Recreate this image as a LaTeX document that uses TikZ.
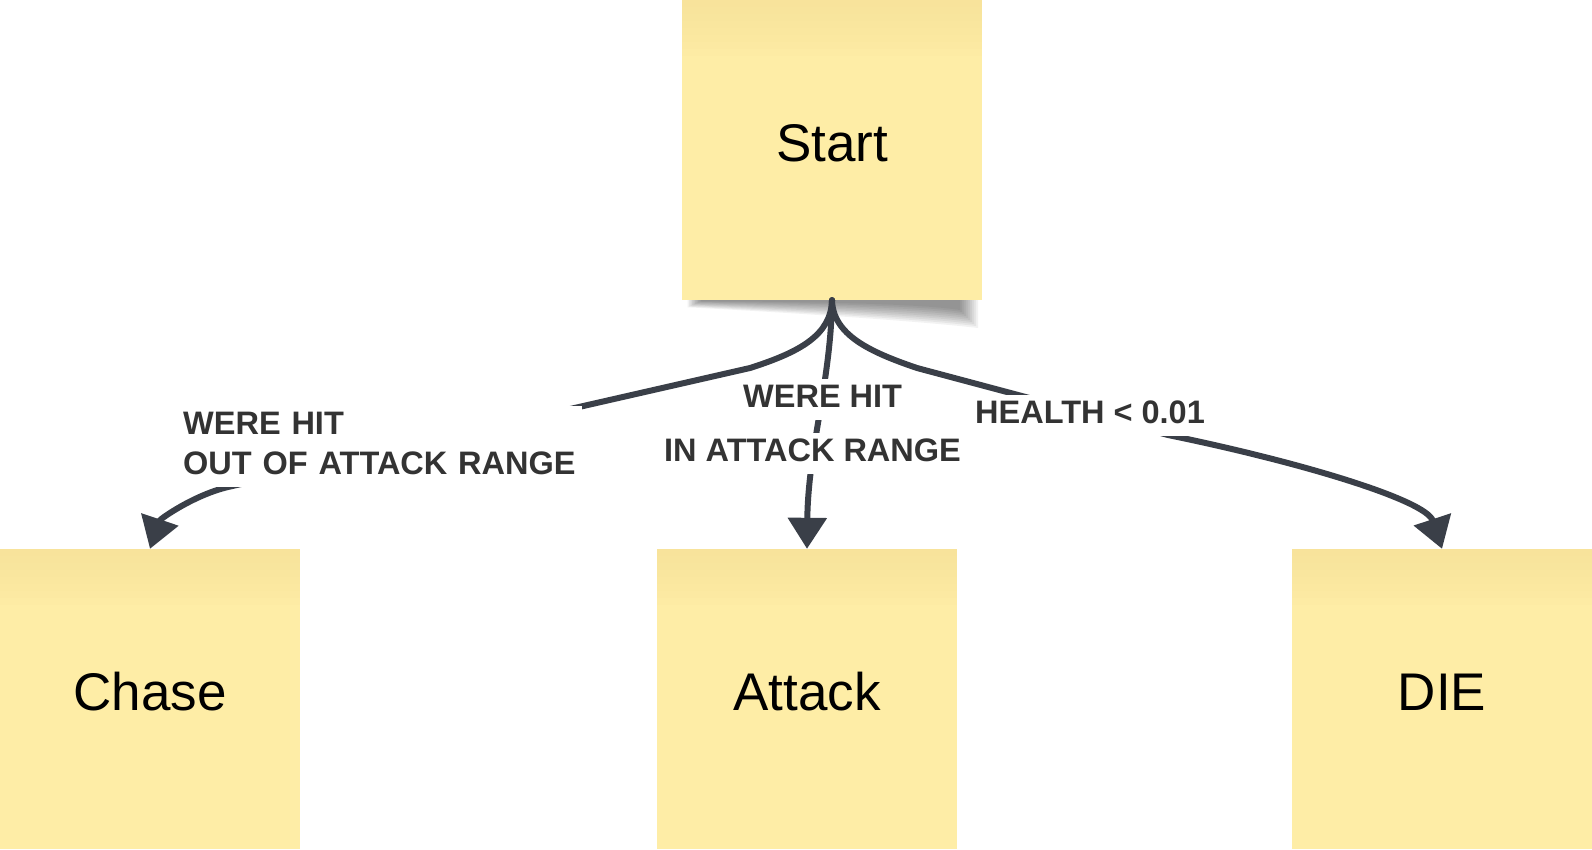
\documentclass[tikz,border=0pt]{standalone}
\usepackage{fontspec}
\setmainfont{Liberation Sans}
\usetikzlibrary{arrows.meta}
\definecolor{notefill}{HTML}{FEEDA6}
\definecolor{notetop}{HTML}{F8E39B}
\definecolor{wire}{HTML}{3A3F48}
\definecolor{labeltext}{HTML}{333333}
\tikzset{
  note/.style={rectangle, minimum width=300pt, minimum height=300pt, inner sep=0pt,
    fill=notefill, text=black, font=\fontsize{53}{60}\selectfont,
    text height=22pt, text depth=0pt,
    path picture={\foreach \j in {1,...,8}{\fill[notetop, opacity=0.16]
      (path picture bounding box.north west) rectangle ([yshift=-\j*7pt]path picture bounding box.north east);}}},
  wirestyle/.style={draw=wire, line width=6pt, line cap=round,
    -{Triangle[length=31pt,width=38pt]}},
  cond/.style={fill=white, text=labeltext, font=\fontsize{32.5}{40}\selectfont\bfseries,
    inner xsep=4pt, inner ysep=0pt, text height=28pt, text depth=13pt},
}
\begin{document}
\begin{tikzpicture}[x=1pt,y=-1pt]
\useasboundingbox[fill=white] (0,0) rectangle (1592,849);
% shadow under the Start note
\foreach \k in {1,...,10} {
  \fill[black, opacity=0.05] (686+1.5*\k, 290) -- (980-2*\k, 290) -- (980-2*\k, 330-2*\k)
    .. controls (910, 322-2*\k) and (760, 312-\k) .. (686+1.5*\k, 308-0.7*\k) -- cycle;
}
\node[note] (start) at (832,150) {Start};
\node[note] (chase) at (150,699) {Chase};
\node[note] (attack) at (807,699) {Attack};
\node[note] (die) at (1442,699) {DIE};
% connectors
\draw[wirestyle] (start.south) .. controls (831,335) and (800,352) .. (750,368)
  -- (228,487) .. controls (194,495) and (160,519) .. (chase.north);
\draw[wirestyle] (start.south) .. controls (831,380) and (808,450) .. (attack.north);
\draw[wirestyle] (start.south) .. controls (833,335) and (870,352) .. (917,368)
  -- (1168,435) .. controls (1300,462) and (1426,500) .. (die.north);
% labels
\node[cond, anchor=north west, text width=395pt, align=left, text depth=53pt] (lblout)
  at (179,406) {WERE HIT\\OUT OF ATTACK RANGE};
\node[cond, anchor=base west] (lblin1) at (739,407) {WERE HIT};
\node[cond, anchor=base west] (lblin2) at (660,461) {IN ATTACK RANGE};
\node[cond, anchor=base west] (lblhealth) at (971,423) {HEALTH < 0.01};
\end{tikzpicture}
\end{document}
